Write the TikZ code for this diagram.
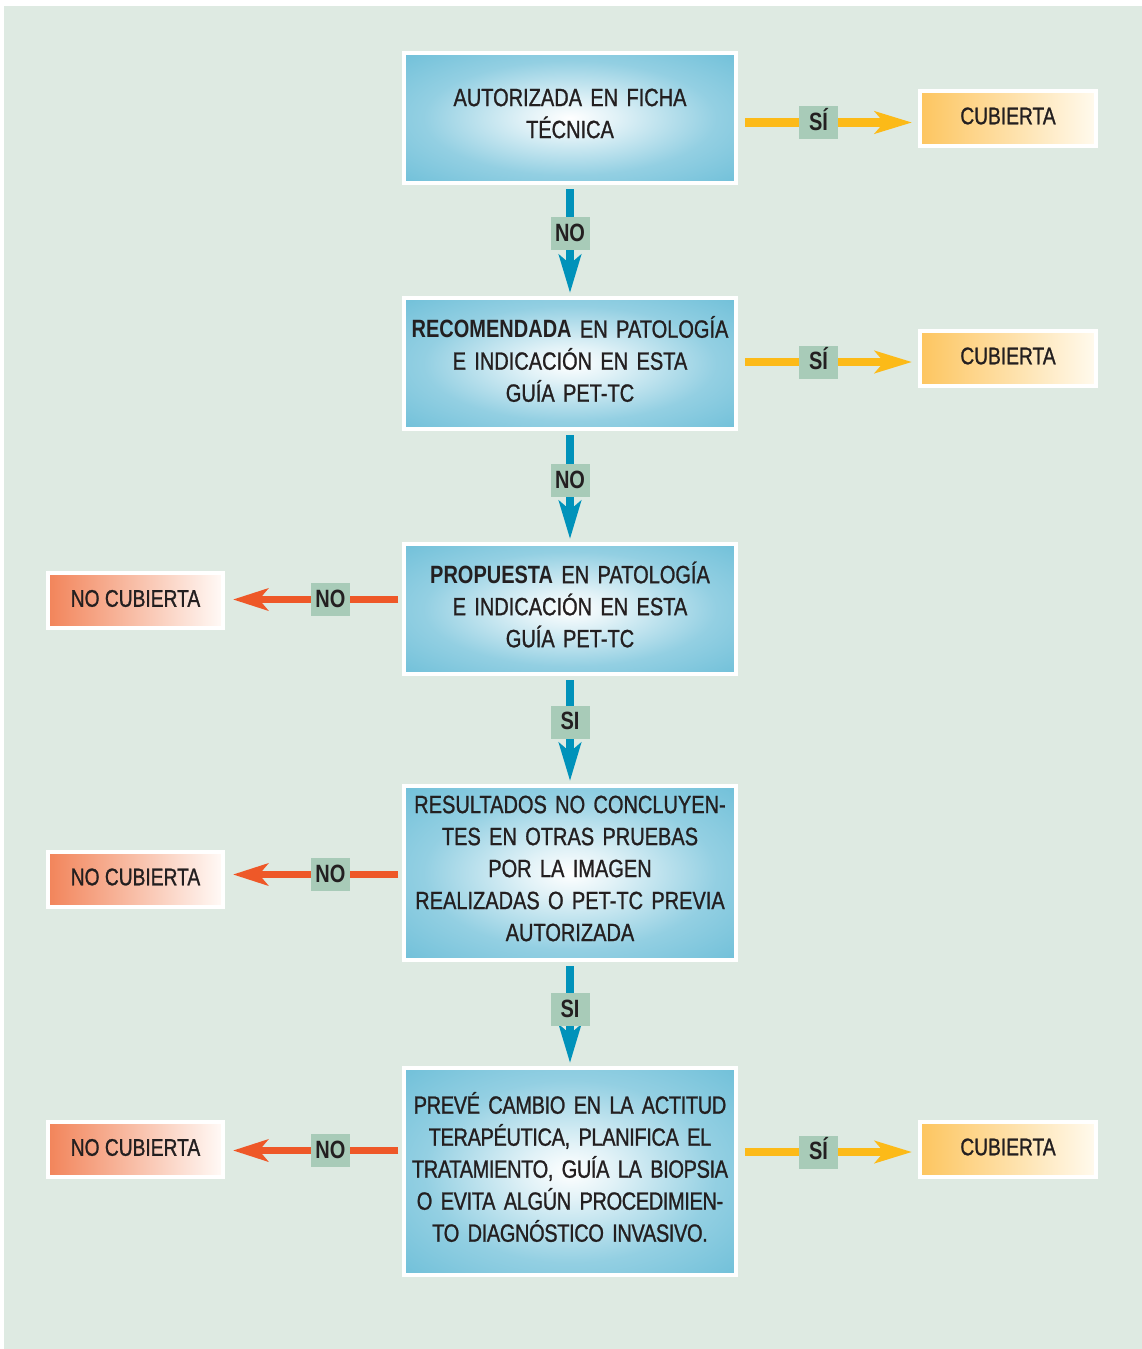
\documentclass[tikz,border=0pt]{standalone}
\usepackage{fontspec}
\setmainfont{Liberation Sans}[FakeStretch=0.8, UprightFeatures={FakeBold=1}]
\usetikzlibrary{arrows.meta,calc}
\definecolor{bgc}{RGB}{222,234,226}
\definecolor{boxblue}{RGB}{101,187,214}
\colorlet{glowa}{white!80!boxblue}
\colorlet{glowb}{boxblue!70!white}
\definecolor{arrblue}{RGB}{0,146,186}
\definecolor{lblc}{RGB}{168,203,184}
\definecolor{yarr}{RGB}{252,186,24}
\definecolor{rarr}{RGB}{238,88,40}
\definecolor{yel}{RGB}{253,197,95}
\definecolor{yelr}{RGB}{255,250,238}
\definecolor{org}{RGB}{242,132,90}
\definecolor{orgr}{RGB}{255,250,247}
\definecolor{txt}{RGB}{35,31,32}
\pgfdeclareradialshading{glow}{\pgfpoint{0bp}{0bp}}{color(0bp)=(white); color(7bp)=(glowa); color(22bp)=(glowb); color(40bp)=(boxblue); color(50bp)=(boxblue)}
\newcommand{\upfix}{\par\vspace{9pt}}
\tikzset{
  mainbox/.style={shading=glow, draw=white, line width=4pt, minimum width=332pt,
    text width=328pt, align=center, inner sep=0pt, outer sep=2pt,
    font=\fontsize{25}{32}\selectfont, text=txt},
  sidey/.style={left color=yel, right color=yelr, draw=white, line width=4pt,
    minimum width=176pt, minimum height=55pt, inner sep=0pt, outer sep=2pt,
    text height=17.5pt, text depth=6pt,
    font=\fontsize{24}{28}\selectfont, text=txt},
  sider/.style={left color=org, right color=orgr, draw=white, line width=4pt,
    minimum width=175pt, minimum height=55pt, inner sep=0pt, outer sep=2pt,
    text height=17.5pt, text depth=5pt,
    font=\fontsize{24}{28}\selectfont, text=txt},
  lbl/.style={fill=lblc, draw=none, minimum width=39pt, minimum height=33pt, inner sep=0pt,
    outer sep=0pt, text height=18pt, text depth=3pt,
    font=\bfseries\fontsize{25}{28}\selectfont, text=txt},
  barr/.style={draw=arrblue, line width=7.5pt, shorten <=4pt, shorten >=3pt,
    -{Stealth[length=38pt,width=22pt,inset=9pt]}},
  yarrs/.style={draw=yarr, line width=8.5pt, shorten <=7pt, shorten >=6pt,
    -{Stealth[length=37pt,width=22pt,inset=9pt]}},
  rarrs/.style={draw=rarr, line width=7pt, shorten <=4pt, shorten >=8pt,
    -{Stealth[length=35pt,width=22pt,inset=9pt]}},
}
\begin{document}
\begin{tikzpicture}[x=1pt,y=-1pt]
\useasboundingbox (0,0) rectangle (1142,1349);
\fill[white] (0,0) rectangle (1142,1349);
\fill[bgc] (4,6) rectangle (1142,1349);

% main boxes
\node[mainbox, minimum height=130pt] (b1) at (570,118) {AUTORIZADA EN FICHA\\TÉCNICA\upfix};
\node[mainbox, minimum height=131pt] (b2) at (570,363.5) {{\bfseries RECOMENDADA} EN PATOLOGÍA\\E INDICACIÓN EN ESTA\\GUÍA PET-TC\upfix};
\node[mainbox, minimum height=130pt] (b3) at (570,609) {{\bfseries PROPUESTA} EN PATOLOGÍA\\E INDICACIÓN EN ESTA\\GUÍA PET-TC\upfix};
\node[mainbox, minimum height=174pt] (b4) at (570,873) {RESULTADOS NO CONCLUYEN-\\TES EN OTRAS PRUEBAS\\POR LA IMAGEN\\REALIZADAS O PET-TC PREVIA\\AUTORIZADA\upfix};
\node[mainbox, minimum height=207pt] (b5) at (570,1171.5) {\addfontfeatures{LetterSpace=-1.5}PREVÉ CAMBIO EN LA ACTITUD\\TERAPÉUTICA, PLANIFICA EL\\TRATAMIENTO, GUÍA LA BIOPSIA\\O EVITA ALGÚN PROCEDIMIEN-\\TO DIAGNÓSTICO INVASIVO.\upfix};

% side boxes
\node[sidey] (c1) at (1008,118.5) {CUBIERTA};
\node[sidey] (c2) at (1008,358.5) {CUBIERTA};
\node[sidey] (c3) at (1008,1149.5) {CUBIERTA};
\node[sider] (n1) at (135.5,600.5) {NO CUBIERTA};
\node[sider] (n2) at (135.5,879) {NO CUBIERTA};
\node[sider] (n3) at (135.5,1149.5) {NO CUBIERTA};

% vertical arrows
\draw[barr] (b1) -- node[lbl,pos=0.44] (v1) {NO} (b2);
\draw[barr] (b2) -- node[lbl,pos=0.45] (v2) {NO} (b3);
\draw[barr] (b3) -- node[lbl,pos=0.43] (v3) {SI} (b4);
\draw[barr] (b4) -- node[lbl,pos=0.46] (v4) {SI} (b5);

% yellow arrows
\draw[yarrs] ($(b1.east |- c1.center)+(0,4)$) -- node[lbl,pos=0.447] (s1) {SÍ} ($(c1.west)+(0,4)$);
\draw[yarrs] ($(b2.east |- c2.center)+(0,3.5)$) -- node[lbl,pos=0.447] (s2) {SÍ} ($(c2.west)+(0,3.5)$);
\draw[yarrs] ($(b5.east |- c3.center)+(0,2.5)$) -- node[lbl,pos=0.447] (s3) {SÍ} ($(c3.west)+(0,2.5)$);

% red arrows
\draw[rarrs] ($(b3.west |- n1.center)+(0,-1)$) -- node[lbl,pos=0.404] (r1) {NO} ($(n1.east)+(0,-1)$);
\draw[rarrs] ($(b4.west |- n2.center)+(0,-4.5)$) -- node[lbl,pos=0.404] (r2) {NO} ($(n2.east)+(0,-4.5)$);
\draw[rarrs] ($(b5.west |- n3.center)+(0,1)$) -- node[lbl,pos=0.404] (r3) {NO} ($(n3.east)+(0,1)$);
\end{tikzpicture}
\end{document}
